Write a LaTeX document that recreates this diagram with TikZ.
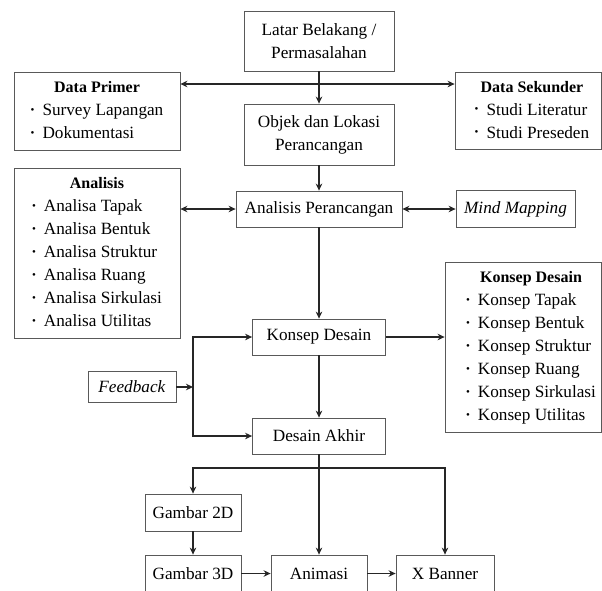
\documentclass[tikz,border=0pt]{standalone}
\usepackage{fontspec}
\setmainfont{Liberation Serif}
\usetikzlibrary{arrows.meta}
\tikzset{
  kotak/.style={draw=black!65, line width=0.8pt, inner sep=0pt, align=center,
    font=\fontsize{17.2}{23}\selectfont},
  garis/.style={line width=1.6pt, draw=black!85},
  >={Stealth[length=7pt,width=6.5pt]}
}
\newcommand{\butir}{\raisebox{0.15em}{\fontsize{11}{11}\selectfont\textbullet}}
\newcommand{\judul}[1]{\multicolumn{2}{c}{\fontsize{16}{23}\selectfont\bfseries #1}}
\newcommand{\daftar}[2]{\begin{tabular}{@{}l@{\hspace{8pt}}l@{}}\judul{#1}\\#2\end{tabular}}
\begin{document}
\begin{tikzpicture}[x=1pt,y=-1pt]
  \path[fill=white,use as bounding box] (0,0) rectangle (602,590);

  % alur utama
  \node[kotak, minimum width=150, minimum height=60] (latar) at (319,41) {Latar Belakang /\\Permasalahan};
  \node[kotak, minimum width=150, minimum height=61] (objek) at (319,134.5) {Objek dan Lokasi\\Perancangan};
  \node[kotak, minimum width=166, minimum height=36] (anper) at (319,209) {Analisis Perancangan};
  \node[kotak, minimum width=133, minimum height=36] (konsep) at (319,337) {Konsep Desain};
  \node[kotak, minimum width=133, minimum height=36] (akhir) at (319,436) {Desain Akhir};

  % kotak samping
  \node[kotak, minimum width=166, minimum height=78] (primer) at (97,111)
    {\daftar{Data Primer}{\butir & Survey Lapangan\\ \butir & Dokumentasi}};
  \node[kotak, minimum width=146, minimum height=77] (sekunder) at (528,110.5)
    {\hspace*{8pt}\daftar{Data Sekunder}{\butir & Studi Literatur\\ \butir & Studi Preseden}};
  \node[kotak, minimum width=166, minimum height=170] (analisis) at (97,253)
    {\daftar{Analisis}{\butir & Analisa Tapak\\ \butir & Analisa Bentuk\\ \butir & Analisa Struktur\\
      \butir & Analisa Ruang\\ \butir & Analisa Sirkulasi\\ \butir & Analisa Utilitas}};
  \node[kotak, minimum width=119, minimum height=37] (mind) at (515.5,209) {\textit{Mind Mapping}};
  \node[kotak, minimum width=156, minimum height=170] (konsepl) at (523,347)
    {\hspace*{16pt}\daftar{Konsep Desain}{\butir & Konsep Tapak\\ \butir & Konsep Bentuk\\ \butir & Konsep Struktur\\
      \butir & Konsep Ruang\\ \butir & Konsep Sirkulasi\\ \butir & Konsep Utilitas}};
  \node[kotak, minimum width=88, minimum height=31] (feedback) at (132,387) {\textit{Feedback}};

  % keluaran
  \node[kotak, minimum width=96, minimum height=37] (g2d) at (193,512.5) {Gambar 2D};
  \node[kotak, minimum width=96, minimum height=37] (g3d) at (193,573.5) {Gambar 3D};
  \node[kotak, minimum width=96, minimum height=37] (animasi) at (319,573.5) {Animasi};
  \node[kotak, minimum width=98, minimum height=37] (xbanner) at (445,573.5) {X Banner};

  % panah
  \coordinate (cabang1) at (319,84);
  \draw[garis,->] (latar) -- (objek);
  \draw[garis,<->] (primer.east |- cabang1) -- (sekunder.west |- cabang1);
  \draw[garis,->] (objek) -- (anper);
  \draw[garis,<->] (analisis.east |- anper.west) -- (anper.west);
  \draw[garis,<->] (anper) -- (mind);
  \draw[garis,->] (anper) -- (konsep);
  \draw[garis,->] (konsep.east) -- (konsepl.west |- konsep.east);
  \draw[garis,->] (konsep) -- (akhir);

  % feedback
  \coordinate (umpan) at (193,387);
  \draw[garis,->] (feedback) -- (umpan);
  \draw[garis,->] (umpan) |- (konsep.west);
  \draw[garis,->] (umpan) |- (akhir.west);

  % cabang ke keluaran
  \coordinate (cabang2) at (319,468);
  \draw[garis,->] (akhir) -- (animasi);
  \draw[garis,->] (cabang2) -| (g2d.north);
  \draw[garis,->] (cabang2) -| (xbanner.north);
  \draw[garis,->] (g2d) -- (g3d);
  \draw[garis,->] (g3d) -- (animasi);
  \draw[garis,->] (animasi) -- (xbanner);
\end{tikzpicture}
\end{document}
